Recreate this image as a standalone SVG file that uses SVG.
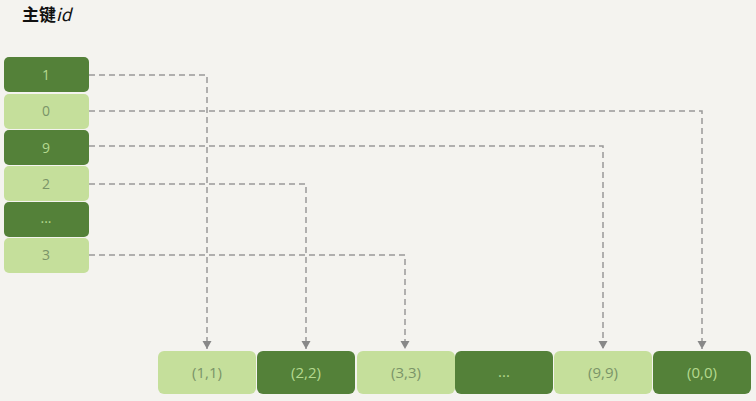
<svg xmlns="http://www.w3.org/2000/svg" width="756" height="401" viewBox="0 0 756 401">
<defs>
<style>
.dk{fill:#548139}
.lt{fill:#c5df9b}
.tdk{fill:#b5d98f;font-family:"Open Sans","DejaVu Sans",sans-serif;font-size:14px;text-anchor:middle}
.tlt{fill:#7a9468;font-family:"Open Sans","DejaVu Sans",sans-serif;font-size:14px;text-anchor:middle}
.big{font-size:15px}
.ln{fill:none;stroke:#999;stroke-width:1.5;stroke-dasharray:6,4}
</style>
<marker id="ah" markerWidth="10" markerHeight="10" refX="8" refY="5" orient="auto" markerUnits="userSpaceOnUse" viewBox="0 0 10 10">
<path d="M0,0.5 L8,5 L0,9.5 Z" fill="#888"/>
</marker>
</defs>
<rect width="756" height="401" fill="#f4f3ef"/>
<text x="22" y="21" font-family="'Noto Sans CJK SC','Liberation Sans',sans-serif" font-size="17" font-weight="bold" fill="#111">主键<tspan font-weight="normal" font-style="italic">id</tspan></text>
<g id="k1"><rect class="dk" x="4" y="57" width="85" height="35" rx="5"/><text class="tdk" x="46" y="80">1</text></g>
<g id="k0"><rect class="lt" x="4" y="94" width="85" height="35" rx="5"/><text class="tlt" x="46" y="116">0</text></g>
<g id="k9"><rect class="dk" x="4" y="130" width="85" height="35" rx="5"/><text class="tdk" x="46" y="153">9</text></g>
<g id="k2"><rect class="lt" x="4" y="166" width="85" height="35" rx="5"/><text class="tlt" x="46" y="189">2</text></g>
<g id="kd"><rect class="dk" x="4" y="202" width="85" height="35" rx="5"/><text class="tdk" x="46" y="223">...</text></g>
<g id="k3"><rect class="lt" x="4" y="238" width="85" height="35" rx="5"/><text class="tlt" x="46" y="260">3</text></g>
<g id="c11"><rect class="lt" x="158" y="351" width="98" height="43" rx="6"/><text class="tlt big" x="207" y="378">(1,1)</text></g>
<g id="c22"><rect class="dk" x="257" y="351" width="98" height="43" rx="6"/><text class="tdk big" x="306" y="378">(2,2)</text></g>
<g id="c33"><rect class="lt" x="357" y="351" width="98" height="43" rx="6"/><text class="tlt big" x="406" y="378">(3,3)</text></g>
<g id="cd"><rect class="dk" x="455" y="351" width="98" height="43" rx="6"/><text class="tdk big" x="504" y="377">...</text></g>
<g id="c99"><rect class="lt" x="554" y="351" width="98" height="43" rx="6"/><text class="tlt big" x="603" y="378">(9,9)</text></g>
<g id="c00"><rect class="dk" x="653" y="351" width="98" height="43" rx="6"/><text class="tdk big" x="702" y="378">(0,0)</text></g>
<g id="connectors">
<path class="ln" d="M89,75 H207 V349" marker-end="url(#ah)"/>
<path class="ln" d="M89,111 H702 V349" marker-end="url(#ah)"/>
<path class="ln" d="M89,146 H603 V349" marker-end="url(#ah)"/>
<path class="ln" d="M89,184 H306 V349" marker-end="url(#ah)"/>
<path class="ln" d="M89,255 H405 V349" marker-end="url(#ah)"/>
</g>
</svg>
